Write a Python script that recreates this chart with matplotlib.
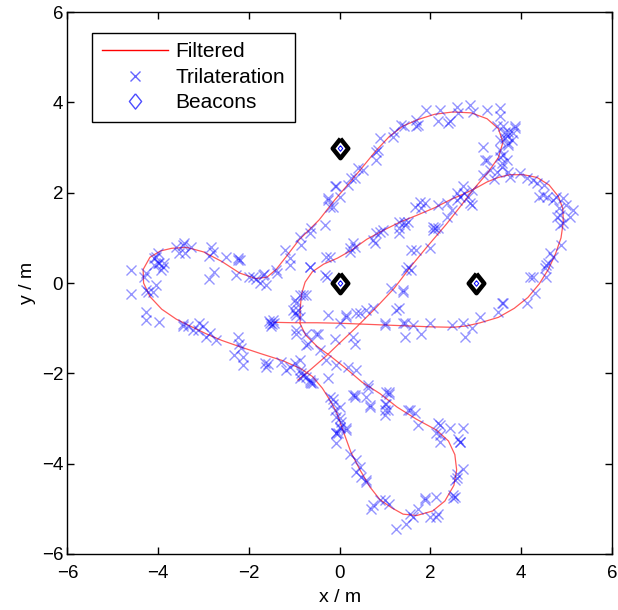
import matplotlib
matplotlib.use("Agg")
import matplotlib.pyplot as plt
from matplotlib.lines import Line2D

plt.rcParams['font.family'] = ['Liberation Sans', 'DejaVu Sans']

# Filtered trajectory (waypoints, in metres)
path_x = [-1.45, -1.0, -0.5, 0.0, 0.5, 1.0, 1.5, 2.0, 2.5, 2.8, 3.1, 3.5, 3.85, 4.15, 4.4, 4.6, 4.76, 4.88,
          4.93, 4.92, 4.82, 4.62, 4.35, 4.05, 3.75, 3.5, 3.25, 3.0, 2.75, 2.45, 2.1, 1.7, 1.33, 0.95, 0.6,
          0.25, -0.05, -0.35, -0.6, -0.76, -0.84, -0.87, -0.87, -0.75, -0.5, -0.2, 0.15, 0.5, 0.89, 1.27,
          1.7, 2.14, 2.4, 2.54, 2.58, 2.52, 2.32, 2.05, 1.7, 1.4, 1.15, 0.89, 0.67, 0.45, 0.25, 0.08,
          -0.06, -0.21, -0.38, -0.6, -0.85, -1.25, -1.75, -2.2, -2.6, -2.95, -3.3, -3.6, -3.92, -4.18,
          -4.32, -4.33, -4.18, -3.95, -3.7, -3.37, -3.0, -2.6, -2.2, -1.85, -1.6, -1.4, -1.18, -0.9,
          -0.45, -0.1, 0.2, 0.45, 0.8, 1.1, 1.4, 1.75, 2.1, 2.5, 2.9, 3.25, 3.5, 3.6, 3.5, 3.27, 2.97,
          2.68, 2.35, 1.95, 1.58, 1.2, 0.77, 0.38, 0.0, -0.3, -0.62, -0.92]
path_y = [-0.87, -0.88, -0.88, -0.89, -0.91, -0.93, -0.95, -0.97, -0.98, -0.95, -0.88, -0.76, -0.56,
          -0.32, -0.02, 0.3, 0.65, 1.0, 1.35, 1.65, 1.92, 2.17, 2.34, 2.4, 2.4, 2.34, 2.24, 2.1, 1.98,
          1.85, 1.67, 1.5, 1.35, 1.16, 0.97, 0.72, 0.55, 0.42, 0.25, 0.02, -0.25, -0.6, -0.9, -1.15,
          -1.4, -1.62, -1.9, -2.2, -2.45, -2.75, -3.02, -3.26, -3.5, -3.8, -4.14, -4.48, -4.83, -5.05,
          -5.15, -5.12, -4.98, -4.8, -4.52, -4.14, -3.75, -3.28, -2.88, -2.6, -2.33, -2.07, -1.9,
          -1.72, -1.56, -1.41, -1.27, -1.12, -0.95, -0.8, -0.58, -0.3, 0.0, 0.3, 0.57, 0.71, 0.77,
          0.79, 0.69, 0.48, 0.22, 0.1, 0.13, 0.3, 0.58, 0.95, 1.4, 1.85, 2.2, 2.5, 2.93, 3.25, 3.48,
          3.63, 3.74, 3.79, 3.77, 3.64, 3.42, 3.12, 2.78, 2.45, 2.1, 1.72, 1.3, 0.83, 0.38, -0.12,
          -0.58, -0.97, -1.33, -1.62, -1.9, -2.15]

# Trilateration fixes
tri_x = [-4.60, -4.60, -4.30, -4.27, -4.12, -4.05, -4.27, -4.27, -3.97, -4.05, -3.97, -3.94, -4.08, -4.01,
         -3.86, -3.60, -3.42, -3.27, -3.53, -2.83, -2.80, -2.87, -2.50, -2.24, -2.76, -2.87, -2.28, -1.99,
         -1.84, -3.46, -3.09, -3.13, -2.94, -2.72, -3.24, -2.24, -2.21, -2.17, -2.32, -2.13, -2.13, -4.23,
         -3.45, -3.00, -4.26, -3.90, -3.46, -3.41, -2.25, -1.76, -1.69, -1.38, -1.66, -1.62, -1.91, -2.20,
         -4.10, -4.00, -3.35, -2.85,
         -1.62, -1.58, -1.65, -1.18, -1.10, -0.99, -0.88, -0.74, -0.59, -0.88, -0.85, -0.66, -0.62, -0.88,
         -0.66, -1.30, -0.80,
         -1.55, -1.50, -1.45, -1.52, -1.47, -1.53,
         -1.21, -1.10, -1.10, -1.40, -0.88, -0.85, -0.66, -0.62, -0.33, -0.22, -0.26, -0.15, -0.26, 0.00,
         -0.07, -0.11, 0.18, 0.33, 0.26, 0.40, 0.51, 0.81, 0.81, 0.84, 0.89, 1.18, 1.21, 1.36, 1.43, 1.69,
         1.69, 1.91,
         2.21, 2.17, 2.43, 2.58, 2.61, 2.87, 3.24, 3.53, 3.53, 2.39, 1.73, 2.95,
         3.61, 3.72, 3.83, 3.64, 3.79, 3.72, 3.53, 3.86, 3.46, 3.87, 3.72, 3.70, 3.65, 3.61, 3.68, 3.57,
         3.24, 3.32, 3.16, 3.46, 3.72, 3.53, 3.16, 3.53, 3.57, 3.21,
         3.97, 4.12, 4.27, 4.50, 4.39, 4.57, 4.71, 4.93, 4.98, 4.86, 5.08, 4.79, 4.86, 3.75, 4.34, 4.49,
         4.78, 5.15, 4.83, 4.93, 4.89, 4.64, 4.71, 4.56, 4.53, 4.27, 4.56, 4.31, 4.12, 3.61, 3.50, 3.09,
         2.91, 2.73, 2.47, 1.99, 1.80, 1.62, 4.19, 3.57, 2.76, 1.44, 1.44, 0.99, 4.60, 3.40,
         2.92, 2.73, 2.58, 2.58, 2.88, 2.36, 2.17, 2.47, 1.77, 1.80, 1.66, 2.06, 2.17, 1.51, 1.32, 1.32,
         0.96, 2.10, 1.99, 1.69, 1.58, 1.40, 2.91, 2.83, 1.88, 2.36, 2.06, 1.44, 1.32, 0.81, 0.74, 0.33,
         0.22, -0.22, 1.58, 1.51, 0.88, 1.43, 0.29, 0.22, 0.77, 2.65, 2.75,
         -0.66, -0.33, -0.29, -0.88, -0.74, -0.96, -0.99, -0.88, -0.92, -1.03, -0.99, -0.81, -0.96, -0.74,
         -0.51, -0.74, -0.44, -0.29, -0.26, -0.96, -0.48, -0.70, 0.15, 0.37, 0.59, -0.11, 0.29, 0.33,
         -0.07, 0.18, 0.37, -0.26, 0.15, 0.44, 0.74, 1.14, 1.40, 1.32, 1.47, 0.99, 1.40, 0.00, 1.25,
         -0.65, -0.28, -0.95,
         -0.22, -0.15, -0.07, -0.07, 0.00, -0.07, 0.00, 0.15, -0.04, 0.62, 0.59, 0.66, 0.33, 1.03, 1.03,
         0.99, 0.33, 0.66, 1.10, 0.99, 1.51, 1.66, 1.73, 2.21, 2.13, 2.43, 2.72, 2.66, 2.21, 2.72, 2.58,
         2.54, 2.50, 2.13, 1.88, 1.73, 2.17, 1.99, 1.55, 1.47, 1.25, 1.10, 0.99, 0.74, 0.59, 0.48, 0.44,
         0.37, 0.22, 0.15, 0.00, -0.10, -0.15, 0.62, 0.29, 0.99, 1.10, 1.07, 1.55, 2.17, 2.21, 2.65, 2.58,
         2.50, 1.88, 2.13, 1.62, 0.89, 0.70, 0.59, 0.37, 0.00, 0.04, -0.07, 2.60, 2.55]
tri_y = [0.29, -0.24, 0.14, -0.16, -0.19, -0.04, -0.64, -0.81, -0.86, 0.58, 0.44, 0.29, 0.40, 0.66,
         0.44, 0.80, 0.88, 0.80, 0.66, 0.80, 0.69, 0.60, 0.57, 0.51, 0.25, 0.08, 0.18, 0.14,
         0.10, -0.95, -0.89, -1.04, -1.19, -1.26, -1.04, -1.19, -1.34, -1.45, -1.60, -1.63, -1.82, -0.19,
         -0.90, -0.95, 0.22, 0.35, 0.84, 0.66, 0.55, 0.00, 0.18, 0.22, 0.21, -0.04, 0.14, 0.51,
         0.55, 0.45, -0.95, -1.10,
         -1.86, -1.80, -1.78, -1.93, -1.86, -1.78, -1.93, -2.08, -2.22, -2.10, -2.00, -2.15, -2.22, -1.71,
         -2.19, -1.75, -2.05,
         -0.85, -0.90, -0.88, -0.95, -0.82, -0.88,
         0.73, 0.55, 0.40, 0.29, 1.03, 0.84, 1.10, 1.21, 1.29, 1.69, 1.84, 1.69, 1.88, 1.91,
         2.14, 2.14, 2.17, 2.32, 2.32, 2.54, 2.51, 2.73, 2.91, 2.95, 3.21, 3.24, 3.35, 3.50, 3.47, 3.47,
         3.61, 3.84,
         3.84, 3.58, 3.58, 3.91, 3.76, 3.95, 3.84, 3.87, 3.69, 3.54, 3.50, 3.80,
         3.47, 3.35, 3.32, 3.21, 3.17, 3.06, 3.17, 3.47, 3.47, 3.43, 3.10, 3.25, 3.35, 2.84, 2.73, 2.58,
         2.73, 2.51, 2.39, 2.47, 2.47, 2.80, 3.02, 2.95, 2.65, 2.73,
         2.43, 2.32, 2.28, 2.17, 1.91, 1.91, 1.84, 1.88, 1.73, 1.51, 1.47, 1.47, 1.29, 2.36, 2.21, 1.95,
         1.91, 1.62, 1.66, 1.32, 0.84, 0.66, 0.58, 0.40, 0.33, 0.14, 0.14, -0.23, -0.45, -0.45, -0.64, -0.75,
         -1.00, -0.89, -0.93, -0.89, -1.12, -0.93, 0.14, -0.45, -1.19, -1.19, -0.89, -0.93, 0.44, 2.30,
         2.06, 2.14, 1.99, 1.84, 1.77, 1.77, 1.73, 1.62, 1.80, 1.66, 1.69, 1.25, 1.21, 1.36, 1.36, 1.21,
         1.18, 1.21, 0.77, 0.73, 0.29, -0.16, 1.73, 1.91, 1.77, 1.47, 1.18, 1.29, 1.10, 1.10, 0.95, 0.80,
         0.69, 0.58, 0.73, 0.36, 1.14, 1.36, 0.88, 0.77, 0.88, 1.90, 2.00,
         0.36, 0.18, 0.58, -0.27, -0.27, -0.45, -0.67, -0.75, -0.60, -0.60, -0.38, -0.27, -1.12, -1.12,
         -1.12, -1.37, -1.49, -1.71, -0.71, -1.04, -1.12, -1.34, -0.75, -0.67, -0.60, -1.23, -1.19, -1.34,
         -1.82, -1.86, -1.93, -2.11, -0.71, -0.67, -0.56, -0.12, -0.19, -0.56, 0.29, -0.89, -0.89, -0.89, -0.60,
         0.35, 0.13, -0.70,
         -2.52, -2.67, -3.33, -3.55, -2.74, -2.96, -3.19, -3.22, -3.33, -2.33, -2.52, -2.74, -2.48, -2.41, -2.67,
         -2.93, -2.52, -2.70, -2.41, -2.82, -2.82, -2.89, -3.15, -3.15, -3.33, -3.22, -3.22, -3.52, -3.52, -4.11, -4.22,
         -4.37, -4.77, -4.74, -4.81, -5.00, -5.11, -5.18, -5.11, -5.33, -5.44, -4.89, -4.81, -4.92, -4.40, -4.29, -4.07,
         -3.92, -3.78, -3.26, -3.00, -2.82, -2.56, -2.26, -2.48, -2.67, -2.45, -2.82, -2.82, -3.11, -3.37, -3.52, -4.33,
         -4.70, -4.77, -5.18, -5.18, -4.81, -5.00, -4.37, -4.18, -3.22, -3.07, -3.33, -3.45, -4.75]

# Beacon positions
beacon_x = [0, 0, 3]
beacon_y = [3, 0, 0]

ticks = [-6, -4, -2, 0, 2, 4, 6]

# MATLAB-like diamond (slightly taller than wide)
diamond = [(0, 1), (0.8, 0), (0, -1), (-0.8, 0), (0, 1)]

fig = plt.figure(figsize=(6.18, 6.10), dpi=100)
ax = fig.add_axes([0.109, 0.092, 0.881, 0.888])

ax.plot(path_x, path_y, color='red', lw=0.9, alpha=0.65, zorder=2)
ax.plot(tri_x, tri_y, 'x', color='blue', alpha=0.42, ms=7.5, mew=1.0, zorder=3)
ax.plot(beacon_x, beacon_y, ls='none', marker=diamond, mfc='white', mec='black', ms=14, mew=3.2, zorder=4)
ax.plot(beacon_x, beacon_y, ls='none', marker=diamond, mfc='none', mec='blue', ms=4, mew=0.7, zorder=5)

ax.set_xlim(-6, 6)
ax.set_ylim(-6, 6)
ax.set_xticks(ticks)
ax.set_yticks(ticks)
ax.tick_params(direction='in', length=5, width=1, top=True, right=True, labelsize=13.5)
ax.tick_params(axis='x', pad=8)
ax.tick_params(axis='y', pad=3)
for s in ax.spines.values():
    s.set_linewidth(1.0)
ax.set_xlabel('x / m', fontsize=14, labelpad=5)
ax.set_ylabel('y / m', fontsize=14, labelpad=4)

handles = [Line2D([], [], color='red', lw=1.0),
           Line2D([], [], ls='none', marker='x', color='blue', alpha=0.6, ms=7, mew=1.0),
           Line2D([], [], ls='none', marker=diamond, mfc='none', mec='blue', alpha=0.7, ms=11, mew=1.0)]
leg = ax.legend(handles, ['Filtered', 'Trilateration', 'Beacons'], loc='upper left',
                bbox_to_anchor=(0.0456, 0.962), borderaxespad=0, fontsize=15,
                fancybox=False, edgecolor='black', framealpha=1, handlelength=3.2,
                handletextpad=0.35, labelspacing=0.32, borderpad=0.45)
leg.get_frame().set_linewidth(1.0)

fig.savefig('out.png', dpi=100)
